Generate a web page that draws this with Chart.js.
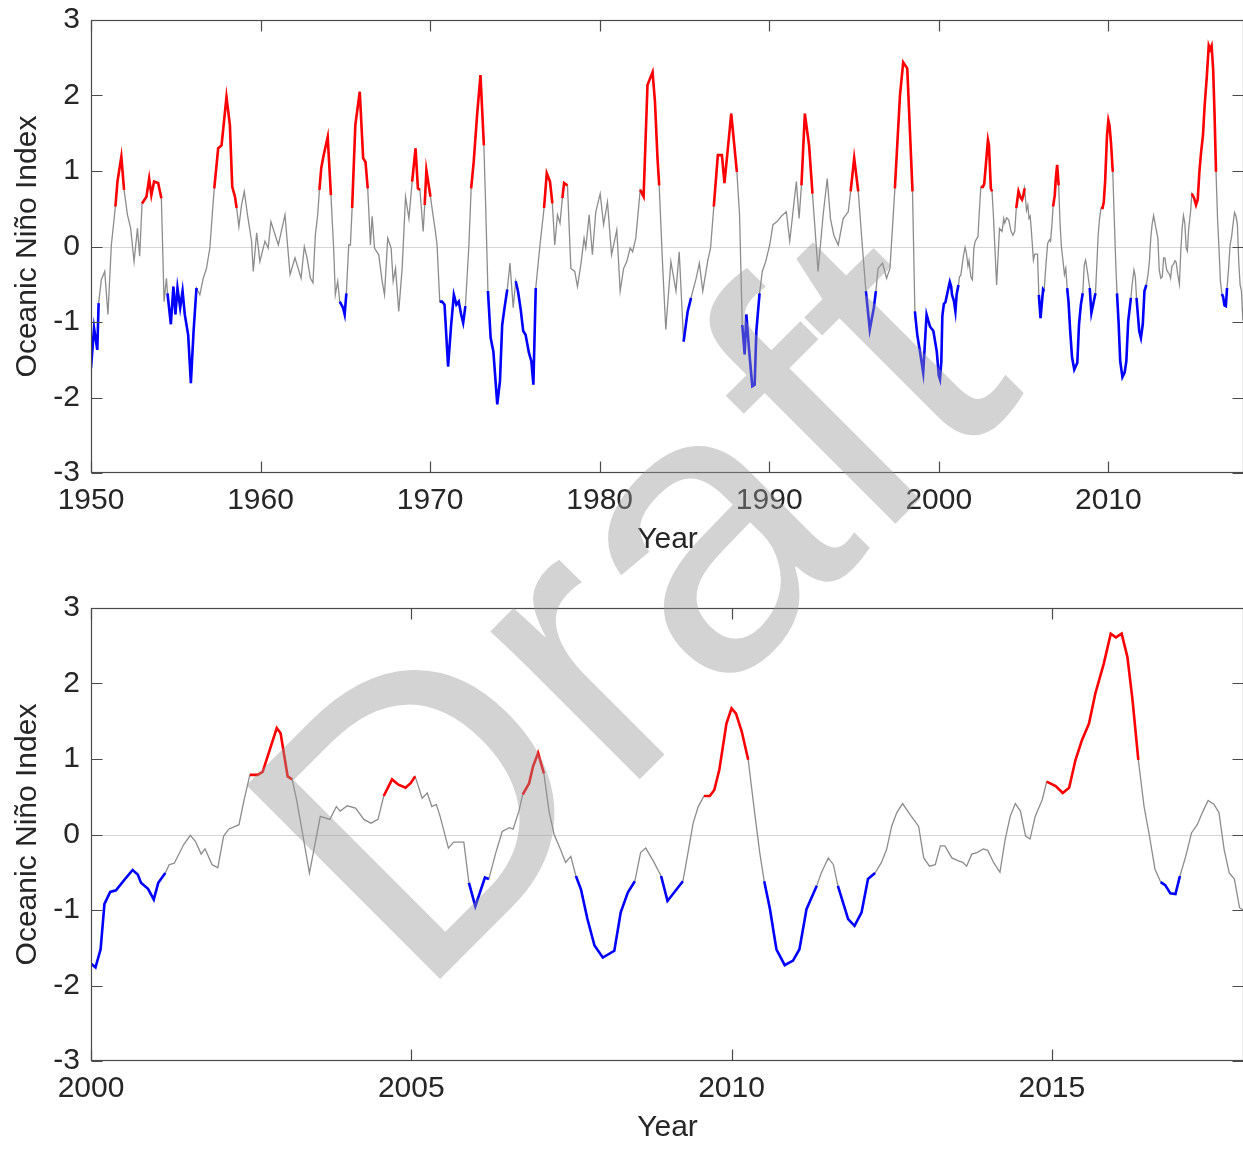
<!DOCTYPE html>
<html>
<head>
<meta charset="utf-8">
<title>Oceanic Niño Index</title>
<script src="https://cdn.jsdelivr.net/npm/chart.js@4.4.1/dist/chart.umd.min.js"></script>
<style>
  html, body { margin: 0; padding: 0; background: #fff; }
  #page { position: relative; width: 1243px; height: 1157px; overflow: hidden; }
  #topChart { position: absolute; left: 0; top: 0; }
  #bottomChart { position: absolute; left: 0; top: 580px; }
  #mark { position: absolute; left: 0; top: 0; pointer-events: none; }
</style>
</head>
<body>
<div id="page">
  <canvas id="topChart" width="1244" height="580"></canvas>
  <canvas id="bottomChart" width="1244" height="577"></canvas>
  <canvas id="mark" width="1243" height="1157"></canvas>
</div>
<script>
// ONI values, 1950-1999 (year, index)
var yearsA = [
  1950.00, 1950.18, 1950.37, 1950.45, 1950.61, 1950.81, 1951.00, 1951.20, 1951.44, 1951.56,
  1951.79, 1951.95, 1952.15, 1952.34, 1952.54, 1952.74, 1952.87, 1953.01, 1953.27, 1953.43,
  1953.56, 1953.72, 1953.96, 1954.15, 1954.31, 1954.45, 1954.51, 1954.71, 1954.86, 1954.98,
  1955.10, 1955.26, 1955.40, 1955.53, 1955.73, 1955.89, 1956.05, 1956.22, 1956.42, 1956.62,
  1956.81, 1957.01, 1957.15, 1957.27, 1957.50, 1957.70, 1957.99, 1958.19, 1958.33, 1958.49,
  1958.59, 1958.72, 1958.88, 1959.04, 1959.23, 1959.47, 1959.57, 1959.77, 1959.96, 1960.26,
  1960.45, 1960.61, 1961.05, 1961.44, 1961.74, 1962.03, 1962.39, 1962.58, 1962.74, 1962.94,
  1963.09, 1963.23, 1963.37, 1963.47, 1963.58, 1963.72, 1963.96, 1964.15, 1964.31, 1964.41,
  1964.55, 1964.67, 1964.86, 1964.96, 1965.06, 1965.20, 1965.30, 1965.40, 1965.59, 1965.85,
  1966.05, 1966.19, 1966.32, 1966.48, 1966.58, 1966.72, 1966.97, 1967.17, 1967.31, 1967.50,
  1967.70, 1967.82, 1967.96, 1968.15, 1968.35, 1968.55, 1968.75, 1968.94, 1969.14, 1969.28,
  1969.40, 1969.59, 1969.68, 1969.78, 1970.02, 1970.17, 1970.31, 1970.41, 1970.57, 1970.71,
  1970.85, 1971.06, 1971.24, 1971.40, 1971.55, 1971.69, 1971.83, 1971.95, 1972.08, 1972.28,
  1972.42, 1972.57, 1972.77, 1972.97, 1973.17, 1973.27, 1973.41, 1973.57, 1973.73, 1973.96,
  1974.12, 1974.25, 1974.39, 1974.55, 1974.71, 1974.90, 1975.05, 1975.18, 1975.34, 1975.49,
  1975.63, 1975.83, 1975.97, 1976.09, 1976.23, 1976.48, 1976.72, 1976.88, 1977.07, 1977.21,
  1977.35, 1977.51, 1977.66, 1977.80, 1977.90, 1978.10, 1978.30, 1978.53, 1978.69, 1978.89,
  1979.08, 1979.18, 1979.38, 1979.57, 1979.77, 1980.03, 1980.23, 1980.46, 1980.70, 1981.01,
  1981.21, 1981.41, 1981.60, 1981.80, 1981.94, 1982.13, 1982.39, 1982.59, 1982.82, 1983.12,
  1983.26, 1983.41, 1983.51, 1983.71, 1983.90, 1984.20, 1984.50, 1984.69, 1984.95, 1985.19,
  1985.39, 1985.69, 1985.88, 1986.08, 1986.38, 1986.54, 1986.73, 1986.97, 1987.21, 1987.36,
  1987.76, 1988.09, 1988.25, 1988.41, 1988.55, 1988.65, 1988.80, 1989.00, 1989.14, 1989.24,
  1989.43, 1989.59, 1989.79, 1990.03, 1990.22, 1990.46, 1990.71, 1991.01, 1991.21, 1991.40,
  1991.60, 1991.76, 1991.90, 1992.10, 1992.35, 1992.55, 1992.88, 1993.18, 1993.42, 1993.61,
  1993.81, 1994.07, 1994.36, 1994.66, 1994.80, 1995.01, 1995.25, 1995.50, 1995.70, 1995.93,
  1996.17, 1996.29, 1996.42, 1996.68, 1996.92, 1997.12, 1997.41, 1997.71, 1997.90, 1998.14,
  1998.45, 1998.59, 1998.73, 1998.89, 1999.08, 1999.28, 1999.48, 1999.68, 1999.88
];
var oniA = [
  -1.61, -1.08, -1.37, -0.75, -0.44, -0.33, -0.90, 0.02, 0.53, 0.86,
  1.19, 0.75, 0.42, 0.24, -0.20, 0.24, -0.13, 0.57, 0.66, 0.90,
  0.68, 0.86, 0.84, 0.64, -0.73, -0.42, -0.62, -1.03, -0.53, -0.90,
  -0.55, -0.81, -0.59, -0.90, -1.17, -1.81, -1.12, -0.55, -0.64, -0.42,
  -0.29, -0.02, 0.42, 0.77, 1.30, 1.34, 1.98, 1.61, 0.79, 0.66,
  0.51, 0.26, 0.55, 0.73, 0.42, 0.07, -0.33, 0.18, -0.20, 0.07,
  -0.02, 0.33, 0.02, 0.42, -0.37, -0.15, -0.42, 0.00, -0.15, -0.42,
  -0.48, 0.15, 0.42, 0.75, 1.04, 1.21, 1.45, 0.68, -0.02, -0.64,
  -0.46, -0.73, -0.81, -0.90, -0.62, 0.02, 0.02, 0.51, 1.61, 2.05,
  1.17, 1.12, 0.77, 0.02, 0.40, -0.02, -0.11, -0.46, -0.64, 0.11,
  -0.02, -0.46, -0.29, -0.86, -0.29, 0.66, 0.37, 0.86, 1.30, 0.77,
  0.75, 0.20, 0.55, 1.01, 0.66, 0.42, 0.20, 0.02, -0.73, -0.73,
  -0.77, -1.59, -1.04, -0.64, -0.77, -0.73, -0.90, -1.01, -0.79, -0.02,
  0.77, 1.12, 1.74, 2.27, 1.34, 0.59, -0.59, -1.21, -1.39, -2.09,
  -1.78, -1.04, -0.81, -0.57, -0.22, -0.81, -0.46, -0.59, -0.83, -1.12,
  -1.17, -1.41, -1.52, -1.83, -0.55, 0.02, 0.51, 0.97, 0.86, 0.57,
  0.02, 0.42, 0.31, 0.64, 0.84, 0.81, -0.29, -0.33, -0.53, -0.24,
  0.11, -0.02, 0.42, -0.11, 0.46, 0.70, 0.29, 0.59, -0.11, 0.22,
  -0.59, -0.29, -0.20, -0.02, -0.07, 0.11, 0.75, 0.66, 2.14, 2.31,
  1.92, 1.17, 0.81, -0.24, -1.10, -0.20, -0.59, -0.07, -1.26, -0.86,
  -0.68, -0.42, -0.22, -0.59, -0.18, -0.02, 0.53, 1.21, 1.21, 0.84,
  1.76, 0.99, 0.42, -1.04, -1.43, -0.90, -1.34, -1.85, -1.83, -1.12,
  -0.62, -0.33, -0.20, 0.02, 0.29, 0.33, 0.40, 0.46, 0.07, 0.46,
  0.86, 0.37, 0.81, 1.76, 1.34, 0.70, -0.33, 0.42, 0.90, 0.37,
  0.15, 0.02, 0.37, 0.46, 0.73, 1.17, 0.73, -0.02, -0.59, -1.10,
  -0.81, -0.59, -0.29, -0.22, -0.42, -0.29, 0.77, 2.00, 2.44, 2.36,
  0.73, -0.86, -1.17, -1.39, -1.67, -0.90, -1.06, -1.12, -1.39
];

// ONI values, 2000-2018
var yearsB = [
  2000.00, 2000.07, 2000.15, 2000.21, 2000.30, 2000.39, 2000.55, 2000.65, 2000.73, 2000.78,
  2000.89, 2000.98, 2001.05, 2001.16, 2001.22, 2001.30, 2001.45, 2001.55, 2001.63, 2001.72,
  2001.78, 2001.89, 2001.98, 2002.07, 2002.15, 2002.31, 2002.39, 2002.48, 2002.60, 2002.68,
  2002.79, 2002.90, 2002.96, 2003.07, 2003.14, 2003.21, 2003.32, 2003.41, 2003.50, 2003.58,
  2003.73, 2003.83, 2003.89, 2004.00, 2004.13, 2004.26, 2004.37, 2004.48, 2004.57, 2004.70,
  2004.80, 2004.91, 2004.99, 2005.06, 2005.17, 2005.25, 2005.32, 2005.39, 2005.45, 2005.58,
  2005.66, 2005.82, 2005.90, 2006.00, 2006.15, 2006.21, 2006.32, 2006.42, 2006.53, 2006.59,
  2006.68, 2006.74, 2006.84, 2006.90, 2006.98, 2007.07, 2007.15, 2007.23, 2007.32, 2007.41,
  2007.49, 2007.57, 2007.65, 2007.75, 2007.86, 2007.99, 2008.17, 2008.27, 2008.38, 2008.49,
  2008.58, 2008.66, 2008.79, 2008.90, 2009.00, 2009.24, 2009.32, 2009.40, 2009.48, 2009.57,
  2009.66, 2009.73, 2009.81, 2009.92, 2010.00, 2010.07, 2010.16, 2010.26, 2010.36, 2010.44,
  2010.51, 2010.60, 2010.70, 2010.83, 2010.96, 2011.06, 2011.17, 2011.33, 2011.40, 2011.51,
  2011.59, 2011.66, 2011.82, 2011.92, 2012.03, 2012.13, 2012.24, 2012.34, 2012.42, 2012.50,
  2012.58, 2012.67, 2012.79, 2012.92, 2013.00, 2013.09, 2013.18, 2013.26, 2013.33, 2013.44,
  2013.54, 2013.61, 2013.67, 2013.75, 2013.83, 2013.93, 2014.00, 2014.09, 2014.19, 2014.27,
  2014.35, 2014.43, 2014.51, 2014.59, 2014.66, 2014.74, 2014.85, 2014.92, 2015.06, 2015.17,
  2015.27, 2015.37, 2015.47, 2015.58, 2015.68, 2015.81, 2015.92, 2016.00, 2016.09, 2016.18,
  2016.26, 2016.35, 2016.44, 2016.52, 2016.61, 2016.70, 2016.77, 2016.85, 2016.93, 2017.00,
  2017.09, 2017.18, 2017.27, 2017.35, 2017.44, 2017.53, 2017.61, 2017.69, 2017.77, 2017.85,
  2017.93, 2018.00
];
var oniB = [
  -1.71, -1.76, -1.52, -0.92, -0.76, -0.74, -0.57, -0.47, -0.53, -0.64,
  -0.72, -0.86, -0.64, -0.51, -0.40, -0.38, -0.13, -0.01, -0.09, -0.26,
  -0.19, -0.40, -0.44, -0.02, 0.07, 0.13, 0.46, 0.79, 0.79, 0.83,
  1.12, 1.41, 1.34, 0.77, 0.73, 0.46, -0.07, -0.51, -0.11, 0.24,
  0.20, 0.37, 0.31, 0.38, 0.35, 0.20, 0.15, 0.20, 0.51, 0.73,
  0.66, 0.62, 0.68, 0.77, 0.48, 0.55, 0.37, 0.40, 0.24, -0.18,
  -0.10, -0.10, -0.64, -0.95, -0.57, -0.59, -0.24, 0.04, 0.09, 0.07,
  0.31, 0.53, 0.68, 0.90, 1.08, 0.81, 0.31, 0.00, -0.18, -0.37,
  -0.29, -0.55, -0.73, -1.12, -1.47, -1.63, -1.54, -1.03, -0.77, -0.62,
  -0.24, -0.18, -0.37, -0.55, -0.88, -0.62, -0.24, 0.15, 0.37, 0.51,
  0.51, 0.59, 0.86, 1.47, 1.67, 1.60, 1.36, 0.99, 0.29, -0.24,
  -0.62, -0.99, -1.52, -1.73, -1.67, -1.52, -0.99, -0.68, -0.51, -0.31,
  -0.40, -0.68, -1.12, -1.21, -1.03, -0.59, -0.51, -0.37, -0.20, 0.11,
  0.29, 0.41, 0.26, 0.11, -0.31, -0.42, -0.40, -0.15, -0.15, -0.31,
  -0.35, -0.37, -0.42, -0.26, -0.24, -0.19, -0.21, -0.37, -0.50, -0.07,
  0.24, 0.41, 0.31, -0.02, -0.06, 0.24, 0.46, 0.70, 0.64, 0.55,
  0.62, 0.99, 1.25, 1.47, 1.87, 2.26, 2.66, 2.61, 2.66, 2.35,
  1.78, 0.99, 0.37, 0.00, -0.46, -0.63, -0.67, -0.78, -0.79, -0.55,
  -0.29, 0.02, 0.13, 0.29, 0.45, 0.40, 0.29, -0.20, -0.51, -0.59,
  -0.97, -1.01
];

// warm (red) and cold (blue) episodes as coloured in the figure
var elNinoSpans = [
  [1951.44, 1951.95], [1953.01, 1954.15], [1957.27, 1958.59], [1963.47, 1964.15],
  [1965.40, 1966.32], [1968.94, 1969.40], [1969.68, 1970.02], [1972.42, 1973.17],
  [1976.72, 1977.21], [1977.80, 1978.10], [1982.39, 1983.51], [1986.73, 1988.09],
  [1991.90, 1992.55], [1994.80, 1995.25], [1997.41, 1998.45], [2002.48, 2003.14],
  [2004.57, 2005.06], [2006.74, 2007.07], [2009.57, 2010.26], [2014.92, 2016.35]
];
var laNinaSpans = [
  [1950.00, 1950.45], [1954.51, 1956.22], [1964.67, 1965.06], [1970.57, 1972.08],
  [1973.41, 1974.55], [1975.05, 1976.23], [1984.95, 1985.39], [1988.41, 1989.43],
  [1995.70, 1996.29], [1998.59, 2001.16], [2005.90, 2006.21], [2007.57, 2008.49],
  [2008.90, 2009.24], [2010.51, 2011.33], [2011.66, 2012.24], [2016.70, 2017.00]
];

var topXTicks = [1950, 1960, 1970, 1980, 1990, 2000, 2010];
var bottomXTicks = [2000, 2005, 2010, 2015];
var yTicks = [-3, -2, -1, 0, 1, 2, 3];

var FONT = "'Liberation Sans', Arial, Helvetica, sans-serif";
var TEXT = "#262626";

function pointsOf(years, values) {
  return years.map(function (x, i) { return { x: x, y: values[i] }; });
}

function spanPoints(years, values, spans) {
  return years.map(function (x, i) {
    var inside = spans.some(function (s) { return x >= s[0] - 1e-6 && x <= s[1] + 1e-6; });
    return { x: x, y: inside ? values[i] : null };
  });
}

// zero line, box and inward tick marks, matlab style
var framePlugin = {
  id: "frame",
  beforeDatasetsDraw: function (chart) {
    var ctx = chart.ctx, a = chart.chartArea;
    var y0 = Math.round(chart.scales.y.getPixelForValue(0)) + 0.5;
    ctx.save();
    ctx.strokeStyle = "#d6d6d6";
    ctx.lineWidth = 1;
    ctx.beginPath();
    ctx.moveTo(a.left, y0);
    ctx.lineTo(a.right, y0);
    ctx.stroke();
    ctx.restore();
  },
  afterDraw: function (chart) {
    var ctx = chart.ctx, a = chart.chartArea;
    var L = Math.round(a.left) + 0.5, R = Math.round(a.right) - 0.5;
    var T = Math.round(a.top) + 0.5, B = Math.round(a.bottom) - 0.5;
    var len = 11;
    ctx.save();
    ctx.strokeStyle = "#4a4a4a";
    ctx.lineWidth = 1.2;
    ctx.strokeRect(L, T, R - L, B - T);
    ctx.beginPath();
    chart.scales.x.ticks.forEach(function (t) {
      var px = Math.round(chart.scales.x.getPixelForValue(t.value)) + 0.5;
      ctx.moveTo(px, B); ctx.lineTo(px, B - len);
      ctx.moveTo(px, T); ctx.lineTo(px, T + len);
    });
    chart.scales.y.ticks.forEach(function (t) {
      var py = Math.round(chart.scales.y.getPixelForValue(t.value)) + 0.5;
      ctx.moveTo(L, py); ctx.lineTo(L + len, py);
      ctx.moveTo(R, py); ctx.lineTo(R - len, py);
    });
    ctx.stroke();
    ctx.restore();
  }
};

function makePanel(canvasId, years, values, xMin, xMax, xTicks, pad) {
  var ctx = document.getElementById(canvasId).getContext("2d");
  return new Chart(ctx, {
    type: "line",
    data: {
      datasets: [
        {
          label: "ONI",
          data: pointsOf(years, values),
          borderColor: "#8c8c8c",
          borderWidth: 1.3,
          pointRadius: 0,
          tension: 0,
          order: 3
        },
        {
          label: "El Niño",
          data: spanPoints(years, values, elNinoSpans),
          borderColor: "#ff0000",
          borderWidth: 2.6,
          pointRadius: 0,
          tension: 0,
          spanGaps: false,
          order: 2
        },
        {
          label: "La Niña",
          data: spanPoints(years, values, laNinaSpans),
          borderColor: "#0000ff",
          borderWidth: 2.6,
          pointRadius: 0,
          tension: 0,
          spanGaps: false,
          order: 1
        }
      ]
    },
    options: {
      responsive: false,
      animation: false,
      devicePixelRatio: 1,
      layout: { padding: pad },
      plugins: {
        legend: { display: false },
        tooltip: { enabled: false }
      },
      scales: {
        x: {
          type: "linear",
          min: xMin,
          max: xMax,
          afterBuildTicks: function (scale) {
            scale.ticks = xTicks.map(function (v) { return { value: v }; });
          },
          afterFit: function (scale) {
            scale.height = 96;
            scale.paddingLeft = 0;
            scale.paddingRight = 0;
          },
          grid: { display: false, drawTicks: false, tickLength: 0 },
          border: { display: false },
          ticks: {
            maxRotation: 0,
            padding: 10,
            color: TEXT,
            font: { family: FONT, size: 30 },
            callback: function (v) { return String(v); }
          },
          title: {
            display: true,
            text: "Year",
            color: TEXT,
            font: { family: FONT, size: 30 },
            padding: { top: 0, bottom: 11 }
          }
        },
        y: {
          min: -3,
          max: 3,
          afterBuildTicks: function (scale) {
            scale.ticks = yTicks.map(function (v) { return { value: v }; });
          },
          afterFit: function (scale) {
            scale.width = 91;
            scale.paddingTop = 0;
            scale.paddingBottom = 0;
          },
          grid: { display: false, drawTicks: false, tickLength: 0 },
          border: { display: false },
          ticks: {
            padding: 11,
            color: TEXT,
            font: { family: FONT, size: 30 }
          },
          title: {
            display: true,
            text: "Oceanic Niño Index",
            color: TEXT,
            font: { family: FONT, size: 30 },
            padding: { top: 10, bottom: 0 }
          }
        }
      }
    },
    plugins: [framePlugin]
  });
}

makePanel("topChart", yearsA.concat(yearsB), oniA.concat(oniB), 1950, 2018, topXTicks,
  { top: 20, right: 0, bottom: 11, left: 0 });
makePanel("bottomChart", yearsB, oniB, 2000, 2018, bottomXTicks,
  { top: 28, right: 0, bottom: 0, left: 0 });

// "Draft" watermark laid over both panels
var mctx = document.getElementById("mark").getContext("2d");
mctx.save();
mctx.translate(417, 1002);
mctx.rotate(-Math.PI / 4);
mctx.font = "398px " + FONT;
mctx.fillStyle = "rgba(150,150,150,0.42)";
mctx.fillText("Draft", 0, 0);
mctx.restore();
</script>
</body>
</html>
